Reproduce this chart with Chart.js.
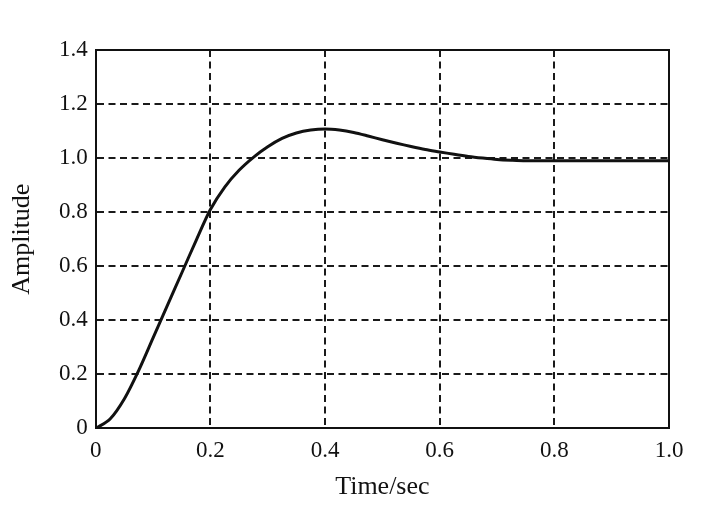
<!DOCTYPE html>
<html>
<head>
<meta charset="utf-8">
<script src="https://cdn.jsdelivr.net/npm/chart.js@4.4.1/dist/chart.umd.min.js"></script>
<style>
  body { margin: 0; background: #fff; }
  canvas { display: block; }
</style>
</head>
<body>
<canvas id="myChart" width="710" height="520"></canvas>
<script>
// step response
var time = [0, 0.025, 0.05, 0.075, 0.1, 0.125, 0.15, 0.175, 0.2, 0.225, 0.25, 0.275, 0.3, 0.325, 0.35, 0.375, 0.4,
  0.425, 0.45, 0.475, 0.5, 0.525, 0.55, 0.575, 0.6, 0.625, 0.65, 0.675, 0.7, 0.725, 0.75, 0.8, 0.85, 0.9, 0.95, 1.0];
var amplitude = [0, 0.035, 0.11, 0.215, 0.335, 0.455, 0.575, 0.695, 0.81, 0.893, 0.955, 1.003, 1.042, 1.073, 1.093, 1.104, 1.108,
  1.104, 1.095, 1.082, 1.068, 1.055, 1.043, 1.032, 1.023, 1.014, 1.006, 1.0, 0.995, 0.992, 0.99, 0.99, 0.99, 0.99, 0.99, 0.99];
var xTicks = [0, 0.2, 0.4, 0.6, 0.8, 1.0];
var yTicks = [0, 0.2, 0.4, 0.6, 0.8, 1.0, 1.2, 1.4];

var points = [];
for (let i = 0; i < time.length; i++) {
  points.push({ x: time[i], y: amplitude[i] });
}

function label(v) {
  return v === 0 ? "0" : Number(v).toFixed(1);
}

var tickFont = { family: "Liberation Serif", size: 23 };
var titleFont = { family: "Liberation Serif", size: 26, lineHeight: 1 };
var grid = { color: "#1a1a1a", lineWidth: 2, drawTicks: false };
var dashed = { display: true, color: "#111", width: 2, dash: [7, 4.5] };
var frame = { display: true, color: "#111", width: 2 };

const ctx = document.getElementById("myChart");
new Chart(ctx, {
  type: "scatter",
  data: {
    datasets: [
      {
        label: "Amplitude",
        data: points,
        showLine: true,
        borderColor: "#111",
        borderWidth: 3,
        pointRadius: 0,
        tension: 0.3,
      },
    ],
  },
  options: {
    responsive: false,
    animation: false,
    layout: { padding: { left: 0, right: 41, top: 50, bottom: 0 } },
    plugins: { legend: { display: false }, tooltip: { enabled: false } },
    scales: {
      x: {
        type: "linear",
        min: 0,
        max: 1,
        afterBuildTicks: function (axis) { axis.ticks = xTicks.map(v => ({ value: v })); },
        ticks: { color: "#111", font: tickFont, padding: 9, callback: label, maxRotation: 0 },
        grid: grid,
        border: dashed,
        title: { display: true, text: "Time/sec", color: "#111", font: titleFont, padding: { top: 0, bottom: 20 } },
      },
      y: {
        type: "linear",
        min: 0,
        max: 1.4,
        afterBuildTicks: function (axis) { axis.ticks = yTicks.map(v => ({ value: v })); },
        ticks: { color: "#111", font: tickFont, padding: 8, callback: label },
        grid: grid,
        border: dashed,
        title: { display: true, text: "Amplitude", color: "#111", font: titleFont, padding: { top: 9, bottom: 16 } },
      },
      x2: {
        type: "linear",
        position: "top",
        min: 0,
        max: 1,
        ticks: { display: false },
        grid: { display: false, drawTicks: false },
        border: frame,
      },
      y2: {
        type: "linear",
        position: "right",
        min: 0,
        max: 1.4,
        ticks: { display: false },
        grid: { display: false, drawTicks: false },
        border: frame,
      },
    },
  },
});
</script>
</body>
</html>
